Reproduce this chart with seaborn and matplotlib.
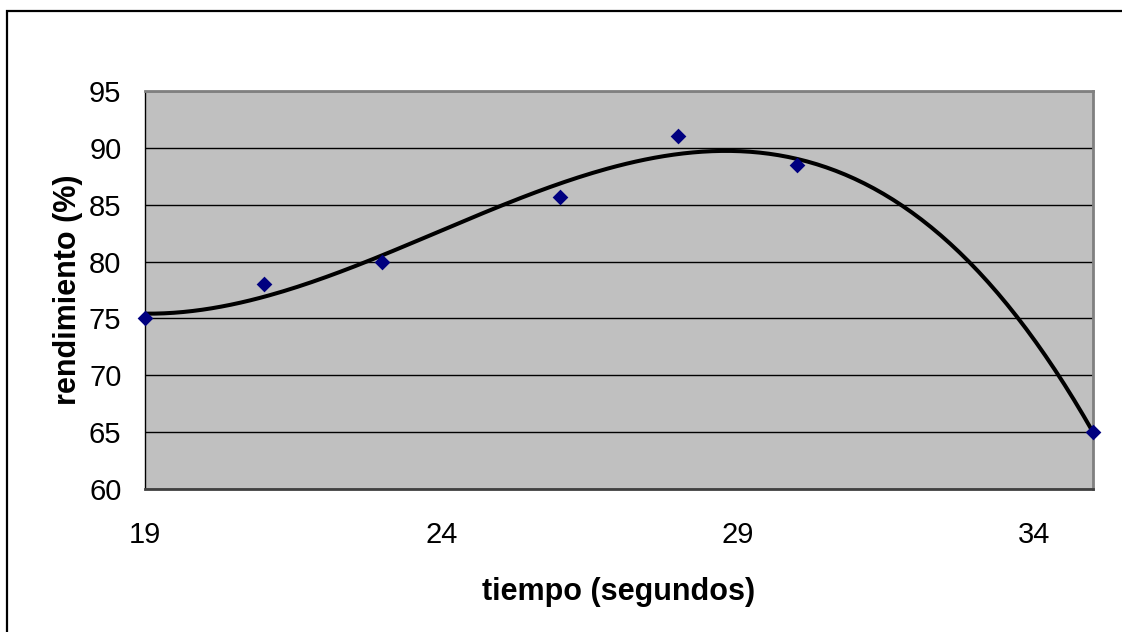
import numpy as np
import pandas as pd
import matplotlib
matplotlib.use("Agg")
import matplotlib.pyplot as plt
import seaborn as sns
from matplotlib.patches import Rectangle

# Measured yield versus reaction time
tiempo = [19, 21, 23, 26, 28, 30, 35]
rendimiento = [75, 78, 80, 85.7, 91, 88.5, 65]
x_ticks = [19, 24, 29, 34]
y_ticks = [60, 65, 70, 75, 80, 85, 90, 95]

sns.set_theme(style="white")
plt.rcParams["font.family"] = ["Liberation Sans", "DejaVu Sans"]

fig = plt.figure(figsize=(11.22, 6.32), dpi=100)
ax = fig.add_axes([145 / 1122, 1 - 489 / 632, (1093 - 145) / 1122, (489 - 91) / 632])
ax.set_facecolor("#C0C0C0")

# Third-order polynomial trend line fitted to the measurements
coef = np.polyfit(tiempo, rendimiento, 3)
xs = np.linspace(min(tiempo), max(tiempo), 200)
trend = pd.DataFrame({"t": xs, "r": np.polyval(coef, xs)})
sns.lineplot(data=trend, x="t", y="r", ax=ax, color="black", linewidth=2.9, zorder=3)

df = pd.DataFrame({"t": tiempo, "r": rendimiento})
sns.scatterplot(data=df, x="t", y="r", ax=ax, marker="D", s=64, color="#000080",
                edgecolor="#000080", linewidth=0, zorder=4, clip_on=False)

ax.set_xlim(19, 35)
ax.set_ylim(60, 95)
ax.set_xticks(x_ticks)
ax.set_yticks(y_ticks)
ax.yaxis.grid(True, color="black", linewidth=1.0)
ax.set_axisbelow(True)
ax.tick_params(axis="both", which="major", labelsize=21, colors="black", direction="out")
ax.tick_params(axis="y", length=7, width=1, pad=10)
ax.tick_params(axis="x", length=6, width=1, pad=17)

for side in ["top", "right"]:
    ax.spines[side].set_color("#808080")
    ax.spines[side].set_linewidth(2)
ax.spines["left"].set_color("black")
ax.spines["left"].set_linewidth(1)
ax.spines["bottom"].set_color("#404040")
ax.spines["bottom"].set_linewidth(2)

ax.set_xlabel("tiempo (segundos)", fontsize=22, fontweight="bold", labelpad=20)
ax.set_ylabel("rendimiento (%)", fontsize=22, fontweight="bold", labelpad=4)
ax.xaxis.label.set_color("black")
ax.yaxis.label.set_color("black")

# Chart-area border
fig.patches.append(Rectangle((7 / 1122, -0.1), 1.2, 1 - 11 / 632 + 0.1,
                             transform=fig.transFigure, fill=False,
                             edgecolor="black", linewidth=1.6))

fig.savefig("out.png", dpi=100, facecolor="white")
